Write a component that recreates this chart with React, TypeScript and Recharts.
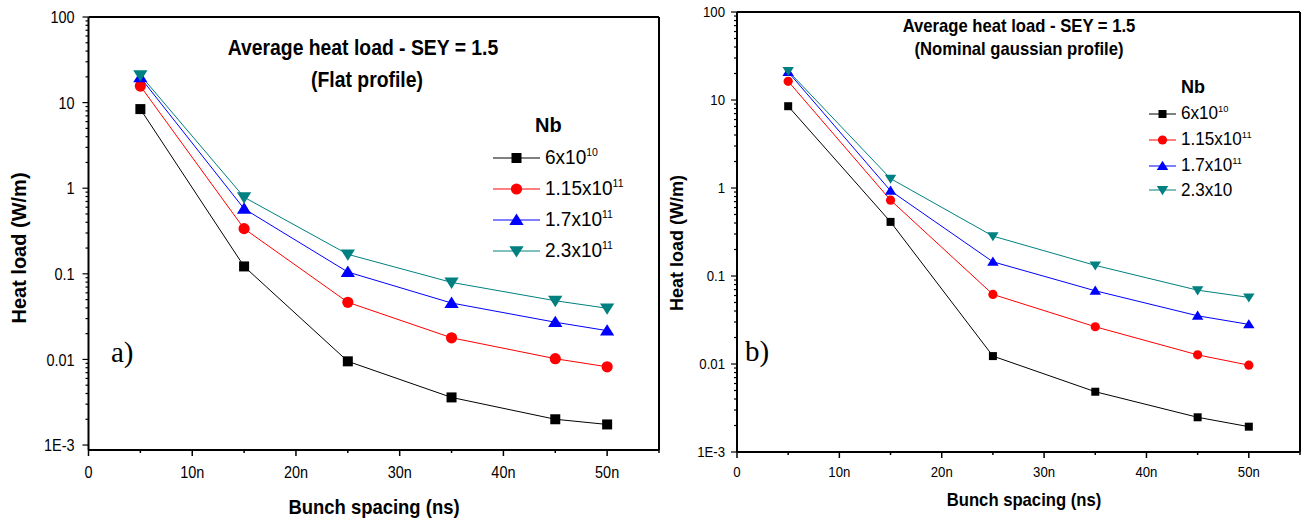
import React from "react";
import { LineChart, Line, XAxis, YAxis, ReferenceLine, Legend } from "recharts";

// bunch spacing (ns)
const spacing = [5, 15, 25, 35, 45, 50];

// a) flat profile, heat load (W/m)
const flat6e10 = [8.4, 0.122, 0.0095, 0.0036, 0.002, 0.00174];
const flat115e11 = [15.6, 0.337, 0.0465, 0.0179, 0.0102, 0.0082];
const flat17e11 = [19.7, 0.575, 0.105, 0.0456, 0.0272, 0.0217];
const flat23e11 = [21, 0.785, 0.169, 0.0794, 0.0485, 0.0396];

// b) nominal gaussian profile, heat load (W/m)
const gauss6e10 = [8.5, 0.412, 0.0123, 0.00484, 0.00248, 0.00194];
const gauss115e11 = [16.3, 0.728, 0.0618, 0.0265, 0.0127, 0.0097];
const gauss17e11 = [20.8, 0.93, 0.145, 0.0679, 0.0353, 0.0282];
const gauss23e11 = [21.4, 1.28, 0.284, 0.132, 0.069, 0.0571];

const xTicks = [0, 5, 10, 15, 20, 25, 30, 35, 40, 45, 50, 55];
const xMajor = [0, 10, 20, 30, 40, 50];
const decades = [0.001, 0.01, 0.1, 1, 10, 100];
const decadeLabels = ["1E-3", "0.01", "0.1", "1", "10", "100"];

const legendBase = ["6x10", "1.15x10", "1.7x10", "2.3x10"];
const flatExp = ["10", "11", "11", "11"];
const gaussExp = ["10", "11", "11", ""];

const colors = ["#000000", "#ff0000", "#0000ff", "#008080"];
const shapes = ["square", "circle", "up", "down"];
const keys = ["s0", "s1", "s2", "s3"];

const yTicks: number[] = [];
decades.forEach((d, i) => {
  yTicks.push(d);
  if (i < decades.length - 1) for (let m = 2; m <= 9; m++) yTicks.push(d * m);
});

const isMajorY = (v: number) => Math.abs(Math.log10(v) - Math.round(Math.log10(v))) < 1e-6;
const yLabel = (v: number) => decadeLabels[decades.findIndex((d) => Math.abs(d - v) / d < 1e-6)];

function buildRows(series: number[][]) {
  return spacing.map((x, i) => {
    const row: any = { x };
    series.forEach((s, j) => (row[keys[j]] = s[i]));
    return row;
  });
}

function Marker({ shape, cx, cy, size, color }: any) {
  const h = size / 2;
  if (shape === "square") return <rect x={cx - h} y={cy - h} width={size} height={size} fill={color} />;
  if (shape === "circle") return <circle cx={cx} cy={cy} r={h + 0.6} fill={color} />;
  const t = h * 1.3;
  if (shape === "up")
    return <polygon points={`${cx},${cy - t} ${cx - t * 1.1},${cy + t * 0.75} ${cx + t * 1.1},${cy + t * 0.75}`} fill={color} />;
  return <polygon points={`${cx},${cy + t} ${cx - t * 1.1},${cy - t * 0.75} ${cx + t * 1.1},${cy - t * 0.75}`} fill={color} />;
}

const font = "'Liberation Sans', Arial, sans-serif";

function Panel(p: any) {
  const rows = buildRows(p.series);
  const XTick = ({ x, y, payload }: any) => {
    const major = xMajor.includes(payload.value);
    return (
      <g>
        <line x1={x} y1={y} x2={x} y2={y + (major ? 6 : 3)} stroke="#000" strokeWidth={1.5} />
        {major && (
          <text
            transform={`translate(${x},${y + p.xLabelDy}) scale(${p.tickSx},1)`}
            textAnchor="middle"
            fontSize={p.tickFont}
            fontFamily={font}
            fill="#000"
          >
            {payload.value === 0 ? "0" : `${payload.value}n`}
          </text>
        )}
      </g>
    );
  };
  const YTick = ({ x, y, payload }: any) => {
    const major = isMajorY(payload.value);
    return (
      <g>
        <line x1={x - (major ? 6 : 3)} y1={y} x2={x} y2={y} stroke="#000" strokeWidth={1.2} />
        {major && (
          <text
            transform={`translate(${x - p.yLabelGap},${y + p.tickFont * 0.36}) scale(${p.tickSx},1)`}
            textAnchor="end"
            fontSize={p.tickFont}
            fontFamily={font}
            fill="#000"
          >
            {yLabel(payload.value)}
          </text>
        )}
      </g>
    );
  };
  const legendContent = () => (
    <div style={{ fontFamily: font, color: "#000" }}>
      <div style={{ fontWeight: "bold", fontSize: p.legendFont, marginLeft: p.nbIndent, height: p.nbHeight }}>Nb</div>
      {legendBase.map((b, i) => (
        <div key={i} style={{ display: "flex", alignItems: "center", height: p.rowHeights[i] }}>
          <svg width={p.sampleWidth} height={18} style={{ marginRight: 5 }}>
            <line x1={0} y1={9} x2={p.sampleWidth} y2={9} stroke={colors[i]} strokeWidth={1} />
            <Marker shape={shapes[i]} cx={p.sampleWidth / 2} cy={9} size={p.markerSize} color={colors[i]} />
          </svg>
          <span style={{ fontSize: p.legendFont, whiteSpace: "nowrap", display: "inline-block", transform: "scaleX(0.95)", transformOrigin: "left" }}>
            {b}
            {p.exps[i] && <sup style={{ fontSize: p.legendFont * 0.55, verticalAlign: "0.75em" }}>{p.exps[i]}</sup>}
          </span>
        </div>
      ))}
    </div>
  );
  return (
    <div style={{ position: "absolute", left: p.left, top: 0, width: p.width, height: 521 }}>
      <LineChart width={p.width} height={521} data={rows} margin={p.margin}>
        <XAxis
          dataKey="x"
          type="number"
          domain={[0, 55]}
          ticks={xTicks}
          interval={0}
          tickSize={0}
          tickMargin={0}
          tickLine={false}
          tick={<XTick />}
          height={30}
          axisLine={{ stroke: "#000", strokeWidth: 2 }}
        />
        <YAxis
          type="number"
          scale="log"
          domain={[p.yMin, 100]}
          allowDataOverflow
          ticks={yTicks}
          interval={0}
          tickSize={0}
          tickMargin={0}
          tickLine={false}
          tick={<YTick />}
          width={60}
          axisLine={{ stroke: "#000", strokeWidth: 2 }}
        />
        <ReferenceLine y={100} stroke="#000" strokeWidth={2} />
        <ReferenceLine x={55} stroke="#000" strokeWidth={2} />
        <Legend
          layout="vertical"
          align="center"
          verticalAlign="middle"
          content={legendContent}
          wrapperStyle={{ position: "absolute", left: p.legendLeft, top: p.legendTop, width: 200 }}
        />
        {keys.map((k, i) => (
          <Line
            key={k}
            dataKey={k}
            stroke={colors[i]}
            strokeWidth={1}
            isAnimationActive={false}
            dot={(d: any) => <Marker key={d.index} shape={shapes[i]} cx={d.cx} cy={d.cy} size={p.markerSize} color={colors[i]} />}
          />
        ))}
      </LineChart>
    </div>
  );
}

const boldText = (t: string, x: number, y: number, size: number, extra: any = {}) => (
  <div
    style={{
      position: "absolute",
      left: x,
      top: y,
      transform: `translate(-50%, -50%) ${extra.rotate ? "rotate(-90deg)" : ""} scaleX(${extra.sx ?? 1})`,
      fontFamily: font,
      fontWeight: "bold",
      fontSize: size,
      whiteSpace: "nowrap",
      color: "#000",
    }}
  >
    {t}
  </div>
);

export default function App() {
  return (
    <div style={{ position: "absolute", left: 0, top: 0, width: 1311, height: 521, background: "#fff", overflow: "hidden" }}>
      <Panel
        left={0}
        width={670}
        margin={{ top: 17, right: 11, bottom: 41, left: 28.5 }}
        yMin={0.000875}
        series={[flat6e10, flat115e11, flat17e11, flat23e11]}
        exps={flatExp}
        tickFont={17}
        tickSx={0.85}
        xLabelDy={28}
        yLabelGap={14}
        markerSize={10}
        legendFont={20}
        legendLeft={493}
        legendTop={114}
        nbIndent={42}
        nbHeight={28}
        rowHeights={[31, 31, 31, 31]}
        sampleWidth={47}
      />
      <Panel
        left={660}
        width={651}
        margin={{ top: 12, right: 11, bottom: 39, left: 17 }}
        yMin={0.001}
        series={[gauss6e10, gauss115e11, gauss17e11, gauss23e11]}
        exps={gaussExp}
        tickFont={15}
        tickSx={0.88}
        xLabelDy={25}
        yLabelGap={12}
        markerSize={8}
        legendFont={18}
        legendLeft={489}
        legendTop={77}
        nbIndent={32}
        nbHeight={24}
        rowHeights={[26, 26, 26, 22]}
        sampleWidth={27}
      />
      {boldText("Average heat load - SEY = 1.5", 363, 48, 21.5, { sx: 0.9 })}
      {boldText("(Flat profile)", 367, 80, 21.5, { sx: 0.9 })}
      {boldText("Heat load (W/m)", 19, 248, 20, { rotate: true })}
      {boldText("Bunch spacing (ns)", 374, 507, 20.5, { sx: 0.9 })}
      {boldText("Average heat load - SEY = 1.5", 1019, 26, 18.5, { sx: 0.9 })}
      {boldText("(Nominal gaussian profile)", 1019, 49, 18.5, { sx: 0.9 })}
      {boldText("Heat load (W/m)", 677, 243, 18, { rotate: true })}
      {boldText("Bunch spacing (ns)", 1024, 500, 18.5, { sx: 0.9 })}
      <div style={{ position: "absolute", left: 111, top: 336, fontFamily: "'Liberation Serif', serif", fontSize: 29 }}>a)</div>
      <div style={{ position: "absolute", left: 745, top: 335, fontFamily: "'Liberation Serif', serif", fontSize: 29 }}>b)</div>
    </div>
  );
}
